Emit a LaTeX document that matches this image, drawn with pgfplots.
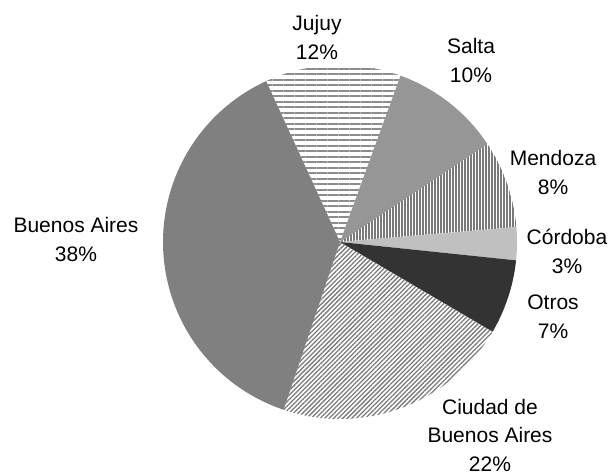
\documentclass[border=0pt]{standalone}
\usepackage{pgfplots}
\pgfplotsset{compat=1.18}
\usepackage{fontspec}
\setmainfont{Liberation Sans}
\usetikzlibrary{patterns.meta}
\definecolor{baires}{HTML}{808080}
\definecolor{salta}{HTML}{969696}
\definecolor{cordoba}{HTML}{C0C0C0}
\definecolor{otros}{HTML}{333333}
\definecolor{stripe}{HTML}{7A7A7A}
\definecolor{hstripe}{HTML}{8C8C8C}
\def\cum{0}
% #1 = share in percent, #2 = style; slices run clockwise from 70 degrees
\newcommand\slice[2]{%
  \pgfmathsetmacro\aS{70-3.6*\cum}%
  \pgfmathsetmacro\aE{70-3.6*(\cum+#1)}%
  \pgfmathsetmacro\newcum{\cum+#1}\global\let\cum\newcum
  \edef\temp{\noexpand\addplot[draw=none,#2,domain=\aE:\aS,samples=90]
    ({177*cos(x)},{177*sin(x)}) -- (axis cs:0,0) -- cycle;}\temp}
\begin{document}
\begin{tikzpicture}
\begin{axis}[x=1pt,y=1pt,xmin=-340,xmax=273,ymin=-234,ymax=242,
  hide axis,clip=false]
\path (rel axis cs:0,0) rectangle (rel axis cs:1,1);
\slice{10.1}{fill=salta}                 % Salta
\slice{8.0}{pattern={Lines[angle=90,distance=3pt,line width=1.1pt]},pattern color=stripe} % Mendoza
\slice{3.0}{fill=cordoba}                % Cordoba
\slice{6.8}{fill=otros}                  % Otros
\slice{21.7}{pattern={Lines[angle=45,distance=3.2pt,line width=1.3pt]},pattern color=stripe} % Ciudad de Buenos Aires
\slice{38.0}{fill=baires}                % Buenos Aires
\slice{12.4}{pattern={Lines[angle=0,distance=5.5pt,line width=2pt]},pattern color=hstripe} % Jujuy
\begin{scope}[every node/.style={align=center,font=\fontsize{21}{29}\selectfont,inner sep=0pt}]
\node at (axis cs:-23,205) {Jujuy\\12\%};
\node at (axis cs:131,181) {Salta\\10\%};
\node at (axis cs:213,70) {Mendoza\\8\%};
\node at (axis cs:227,-9) {Córdoba\\3\%};
\node at (axis cs:213,-75) {Otros\\7\%};
\node[font=\fontsize{21}{28.5}\selectfont] at (axis cs:150,-193) {Ciudad de\\Buenos Aires\\22\%};
\node at (axis cs:-264,3) {Buenos Aires\\38\%};
\end{scope}
\end{axis}
\end{tikzpicture}
\end{document}
